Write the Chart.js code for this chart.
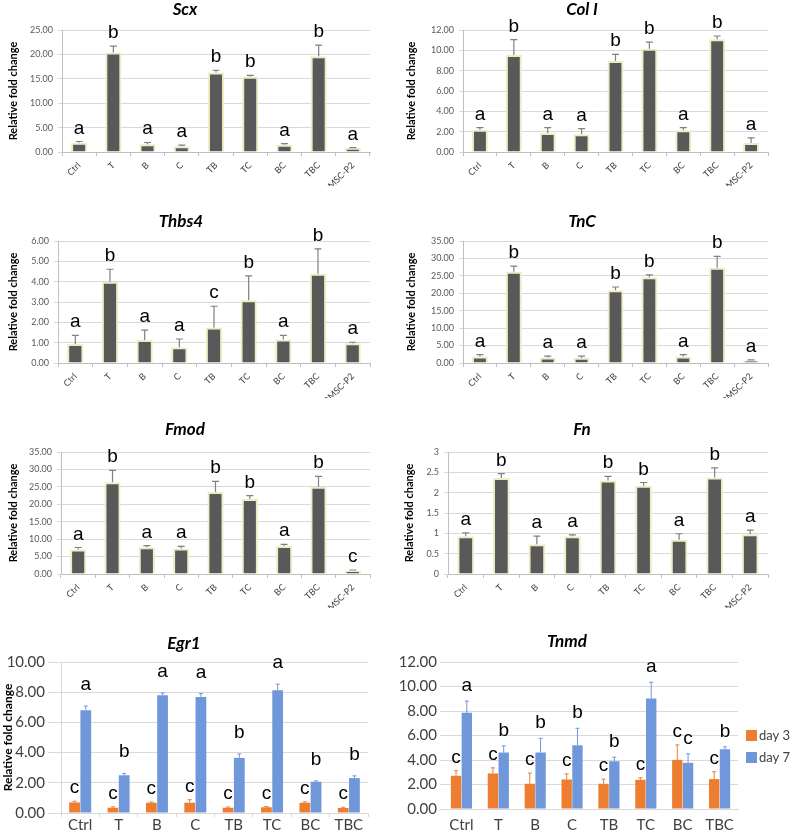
<!DOCTYPE html>
<html>
<head>
<meta charset="utf-8">
<script src="https://cdn.jsdelivr.net/npm/chart.js@4.4.1/dist/chart.umd.min.js"></script>
<style>
html, body { margin: 0; padding: 0; background: #fff; }
body { position: relative; width: 792px; height: 836px; overflow: hidden; }
canvas { position: absolute; }
</style>
</head>
<body>
<script>
// groups
const groups9 = ['Ctrl', 'T', 'B', 'C', 'TB', 'TC', 'BC', 'TBC', 'BMSC-P2'];
const groups8 = ['Ctrl', 'T', 'B', 'C', 'TB', 'TC', 'BC', 'TBC'];

// Scx
const scxMeans = [1.9, 20.4, 1.6, 1.2, 16.3, 15.4, 1.5, 19.6, 0.8];
const scxErrs = [0.25, 1.3, 0.35, 0.2, 0.45, 0.3, 0.2, 2.3, 0.1];
const scxLetters = ['a', 'b', 'a', 'a', 'b', 'b', 'a', 'b', 'a'];

// Col I
const col1Means = [2.2, 9.55, 1.87, 1.75, 8.95, 10.15, 2.14, 11.08, 0.89];
const col1Errs = [0.2, 1.5, 0.53, 0.55, 0.65, 0.65, 0.26, 0.33, 0.49];
const col1Letters = ['a', 'b', 'a', 'a', 'b', 'b', 'a', 'b', 'a'];

// Thbs4
const thbs4Means = [0.93, 4.0, 1.13, 0.77, 1.75, 3.08, 1.15, 4.39, 0.97];
const thbs4Errs = [0.43, 0.61, 0.49, 0.41, 1.04, 1.2, 0.21, 1.22, 0.05];
const thbs4Letters = ['a', 'b', 'a', 'a', 'c', 'b', 'a', 'b', 'a'];

// TnC
const tncMeans = [1.9, 26.2, 1.6, 1.5, 20.9, 24.6, 1.9, 27.3, 0.7];
const tncErrs = [0.5, 1.6, 0.4, 0.5, 0.9, 0.7, 0.5, 3.3, 0.2];
const tncLetters = ['a', 'b', 'a', 'a', 'b', 'b', 'a', 'b', 'a'];

// Fmod
const fmodMeans = [7.0, 26.3, 7.7, 7.3, 23.5, 21.5, 8.0, 25.0, 1.0];
const fmodErrs = [0.6, 3.4, 0.45, 0.6, 3.1, 1.0, 0.5, 3.0, 0.15];
const fmodLetters = ['a', 'b', 'a', 'a', 'b', 'b', 'a', 'b', 'c'];

// Fn
const fnMeans = [0.93, 2.36, 0.73, 0.93, 2.3, 2.17, 0.84, 2.37, 0.98];
const fnErrs = [0.08, 0.11, 0.2, 0.03, 0.1, 0.08, 0.15, 0.24, 0.1];
const fnLetters = ['a', 'b', 'a', 'a', 'b', 'b', 'a', 'b', 'a'];

// Egr1
const egr1Day3 = [0.7, 0.35, 0.68, 0.68, 0.35, 0.38, 0.68, 0.33];
const egr1Day3Errs = [0.08, 0.06, 0.05, 0.2, 0.05, 0.05, 0.06, 0.05];
const egr1Day3Letters = ['c', 'c', 'c', 'c', 'c', 'c', 'c', 'c'];
const egr1Day7 = [6.81, 2.5, 7.8, 7.69, 3.65, 8.13, 2.07, 2.31];
const egr1Day7Errs = [0.27, 0.12, 0.15, 0.22, 0.26, 0.4, 0.06, 0.15];
const egr1Day7Letters = ['a', 'b', 'a', 'a', 'b', 'a', 'b', 'b'];

// Tnmd
const tnmdDay3 = [2.71, 2.9, 2.06, 2.41, 2.06, 2.38, 4.01, 2.44];
const tnmdDay3Errs = [0.41, 0.46, 0.87, 0.46, 0.38, 0.17, 1.22, 0.6];
const tnmdDay3Letters = ['c', 'c', 'c', 'c', 'c', 'c', 'c', 'c'];
const tnmdDay7 = [7.86, 4.61, 4.61, 5.2, 3.9, 9.02, 3.77, 4.88];
const tnmdDay7Errs = [0.95, 0.54, 1.16, 1.39, 0.33, 1.33, 0.73, 0.19];
const tnmdDay7Letters = ['a', 'b', 'b', 'b', 'b', 'a', 'c', 'b'];

Chart.defaults.font.family = 'Lato, "Open Sans", sans-serif';
Chart.defaults.animation = false;

const LETTER_FONT = '19px "Liberation Sans", Arial, sans-serif';

// error bars (plus side only) and significance letters
const errorLetters = {
  id: 'errorLetters',
  afterDatasetsDraw(chart) {
    const ctx = chart.ctx;
    const yScale = chart.scales.y;
    chart.data.datasets.forEach((ds, i) => {
      const meta = chart.getDatasetMeta(i);
      meta.data.forEach((bar, j) => {
        const top = yScale.getPixelForValue(ds.data[j] + ds.errors[j]);
        ctx.save();
        ctx.strokeStyle = ds.errColor;
        ctx.lineWidth = ds.errWidth;
        ctx.beginPath();
        ctx.moveTo(bar.x, bar.y);
        ctx.lineTo(bar.x, top);
        ctx.moveTo(bar.x - ds.cap, top);
        ctx.lineTo(bar.x + ds.cap, top);
        ctx.stroke();
        ctx.fillStyle = '#000';
        ctx.font = LETTER_FONT;
        ctx.textAlign = 'center';
        ctx.textBaseline = 'alphabetic';
        ctx.fillText(ds.letters[j], bar.x, top - ds.gap);
        ctx.restore();
      });
    });
  }
};

// small legend to the right of the plot (Tnmd)
const sideLegend = {
  id: 'sideLegend',
  afterDraw(chart, args, opts) {
    if (!opts.show) return;
    const ctx = chart.ctx;
    const a = chart.chartArea;
    chart.data.datasets.forEach((ds, i) => {
      const x = a.right + 8;
      const y = a.top + 68 + i * 22;
      ctx.save();
      ctx.fillStyle = ds.backgroundColor;
      ctx.fillRect(x, y, 11, 11);
      ctx.fillStyle = '#404040';
      ctx.font = '13px Lato, sans-serif';
      ctx.textBaseline = 'middle';
      ctx.fillText(ds.label, x + 13, y + 6);
      ctx.restore();
    });
  }
};

function grayBars(means, errs, letters) {
  return {
    data: means, errors: errs, letters: letters,
    backgroundColor: '#595959',
    borderColor: '#eeedbf',
    borderWidth: 2,
    borderSkipped: 'bottom',
    barPercentage: 0.47,
    categoryPercentage: 1,
    errColor: '#808080', errWidth: 1.2, cap: 3.5, gap: 8
  };
}

function dayBars(label, color, means, errs, letters, gap) {
  return {
    label: label,
    data: means, errors: errs, letters: letters,
    backgroundColor: color,
    barPercentage: 0.96,
    categoryPercentage: 0.585,
    errColor: color, errWidth: 1, cap: 2, gap: gap
  };
}

// box = canvas placement, plot = wanted chart area (page coords)
function panel(box, plot, o) {
  const cv = document.createElement('canvas');
  cv.width = box.w;
  cv.height = box.h;
  cv.style.left = box.x + 'px';
  cv.style.top = box.y + 'px';
  document.body.appendChild(cv);

  const tSize = 17, lh = tSize * 1.2;
  const padTop = o.titleY - box.y - lh / 2;
  const padBottom = plot.top - box.y - lh - padTop;
  const big = o.big;
  const tickFont = { size: big ? 15 : 9 };
  const yTitleSize = big ? 12 : 11;
  const gridExt = o.gridExt || 0;

  new Chart(cv, {
    type: 'bar',
    data: { labels: o.labels, datasets: o.datasets },
    options: {
      responsive: false,
      layout: { padding: { left: 0, right: box.x + box.w - plot.right, top: 0, bottom: 0 } },
      plugins: {
        tooltip: { enabled: false },
        legend: { display: false },
        sideLegend: { show: !!o.legend },
        title: {
          display: true, text: o.title, color: '#000',
          font: { size: tSize, weight: 'bold', style: 'italic', lineHeight: 1.2 },
          padding: { top: padTop, bottom: padBottom }
        }
      },
      scales: {
        x: {
          grid: big
            ? { display: !!o.xTicks, drawOnChartArea: false, tickLength: 4, color: '#d9d9d9' }
            : { display: true, drawOnChartArea: false, tickLength: 4, color: '#bfbfbf' },
          border: { color: big ? '#d9d9d9' : '#bfbfbf' },
          ticks: big
            ? { font: tickFont, color: '#404040', maxRotation: 0, padding: o.xTicks ? -1 : 3 }
            : { font: tickFont, color: '#404040', minRotation: 45, maxRotation: 45, padding: 4 },
          afterFit(s) { s.height = box.y + box.h - plot.bottom; }
        },
        y: {
          min: 0, max: o.yMax,
          ticks: {
            stepSize: o.yStep, font: tickFont, color: big ? '#404040' : '#595959',
            padding: big ? 3 : 5,
            callback: v => o.fmt(v)
          },
          grid: big
            ? { color: '#d9d9d9', tickColor: '#d9d9d9', tickLength: gridExt, drawTicks: gridExt > 0 }
            : { color: '#d9d9d9', tickLength: 4 },
          border: { display: !big || !!o.yBorder, color: big ? '#d9d9d9' : '#bfbfbf' },
          title: {
            display: o.yTitle, text: 'Relative fold change', color: '#000',
            font: { size: yTitleSize, weight: 'bold', lineHeight: 1.2 },
            padding: { top: o.yTitleX - box.x - yTitleSize * 0.6, bottom: 0 }
          },
          afterFit(s) { s.width = plot.left - box.x; }
        }
      }
    },
    plugins: [errorLetters, sideLegend]
  });
}

const fix2 = v => v.toFixed(2);
const plain = v => String(v);

panel({ x: 0, y: 0, w: 376, h: 186 }, { left: 62, top: 30, right: 370, bottom: 152 },
  { title: 'Scx', titleY: 10, yTitleX: 13, yTitle: true, labels: groups9,
    datasets: [grayBars(scxMeans, scxErrs, scxLetters)], yMax: 25, yStep: 5, fmt: fix2 });

panel({ x: 396, y: 0, w: 380, h: 186 }, { left: 463, top: 30, right: 768, bottom: 152 },
  { title: 'Col I', titleY: 10, yTitleX: 411, yTitle: true, labels: groups9,
    datasets: [grayBars(col1Means, col1Errs, col1Letters)], yMax: 12, yStep: 2, fmt: fix2 });

panel({ x: -8, y: 211, w: 380, h: 187 }, { left: 58, top: 241, right: 370, bottom: 363 },
  { title: 'Thbs4', titleY: 222, yTitleX: 13, yTitle: true, labels: groups9,
    datasets: [grayBars(thbs4Means, thbs4Errs, thbs4Letters)], yMax: 6, yStep: 1, fmt: fix2 });

panel({ x: 396, y: 211, w: 386, h: 187 }, { left: 463, top: 241, right: 768, bottom: 363 },
  { title: 'TnC', titleY: 222, yTitleX: 411, yTitle: true, labels: groups9,
    datasets: [grayBars(tncMeans, tncErrs, tncLetters)], yMax: 35, yStep: 5, fmt: fix2 });

panel({ x: 0, y: 420, w: 376, h: 188 }, { left: 61, top: 452, right: 370, bottom: 574 },
  { title: 'Fmod', titleY: 430, yTitleX: 13, yTitle: true, labels: groups9,
    datasets: [grayBars(fmodMeans, fmodErrs, fmodLetters)], yMax: 35, yStep: 5, fmt: fix2 });

panel({ x: 396, y: 420, w: 380, h: 188 }, { left: 448, top: 452, right: 768, bottom: 574 },
  { title: 'Fn', titleY: 430, yTitleX: 409, yTitle: true, labels: groups9,
    datasets: [grayBars(fnMeans, fnErrs, fnLetters)], yMax: 3, yStep: 0.5, fmt: plain });

panel({ x: 0, y: 630, w: 376, h: 206 }, { left: 61, top: 662, right: 368, bottom: 813 },
  { title: 'Egr1', titleY: 644, yTitleX: 8, yTitle: true, big: true, gridExt: 13, yBorder: true, xTicks: true,
    labels: groups8,
    datasets: [
      dayBars('day 3', '#ED7D31', egr1Day3, egr1Day3Errs, egr1Day3Letters, 8),
      dayBars('day 7', '#6F97D9', egr1Day7, egr1Day7Errs, egr1Day7Letters, 16)
    ], yMax: 10, yStep: 2, fmt: fix2 });

panel({ x: 396, y: 630, w: 406, h: 206 }, { left: 443, top: 662, right: 738, bottom: 809 },
  { title: 'Tnmd', titleY: 642, yTitleX: 380, yTitle: false, big: true, gridExt: 3, legend: true,
    labels: groups8,
    datasets: [
      dayBars('day 3', '#ED7D31', tnmdDay3, tnmdDay3Errs, tnmdDay3Letters, 8),
      dayBars('day 7', '#6F97D9', tnmdDay7, tnmdDay7Errs, tnmdDay7Letters, 10)
    ], yMax: 12, yStep: 2, fmt: fix2 });
</script>
</body>
</html>
